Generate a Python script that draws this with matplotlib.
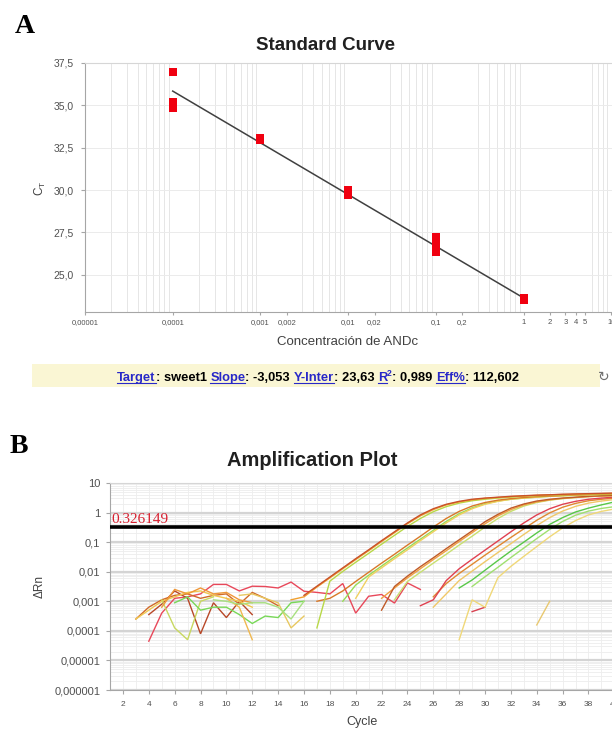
import numpy as np
import matplotlib.pyplot as plt
from matplotlib.lines import Line2D
from matplotlib.patches import Rectangle
from matplotlib.ticker import FixedLocator, FixedFormatter, NullFormatter

plt.rcParams['font.family'] = ['Liberation Sans', 'DejaVu Sans']

# ---------------- Standard curve (panel A) ----------------
conc = [0.0001, 0.0001, 0.0001, 0.001, 0.001, 0.01, 0.01, 0.1, 0.1, 0.1, 1, 1]
ct = [36.97, 35.2, 34.85, 33.1, 32.95, 30.0, 29.7, 27.25, 26.8, 26.35, 23.6, 23.5]
slope = -3.053
y_inter = 23.63
fit_conc = [0.0001, 1]

std_xticks = [1e-5, 1e-4, 1e-3, 2e-3, 1e-2, 2e-2, 0.1, 0.2, 1, 2, 3, 4, 5, 10]
std_xlabels = ['0,00001', '0,0001', '0,001', '0,002', '0,01', '0,02', '0,1', '0,2',
               '1', '2', '3', '4', '5', '10']
std_yticks = [25.0, 27.5, 30.0, 32.5, 35.0, 37.5]
std_ylabels = ['25,0', '27,5', '30,0', '32,5', '35,0', '37,5']

# ---------------- Amplification plot (panel B) ----------------
threshold = 0.326149
amp_yticks = [1e-6, 1e-5, 1e-4, 1e-3, 1e-2, 1e-1, 1, 10]
amp_ylabels = ['0,000001', '0,00001', '0,0001', '0,001', '0,01', '0,1', '1', '10']
amp_xticks = list(range(2, 42, 2))

# log10(dRn) per cycle: (first cycle, values, colour)
tr01 = (16, [-2.80, -2.49, -2.18, -1.87, -1.56, -1.26, -0.95, -0.65, -0.35, -0.08, 0.13, 0.28, 0.38,
             0.45, 0.49, 0.52, 0.55, 0.57, 0.59, 0.60, 0.62, 0.63, 0.64, 0.65, 0.66], '#C8502A')
tr02 = (15, [-2.95, -2.85, -2.52, -2.21, -1.90, -1.59, -1.29, -0.98, -0.68, -0.38, -0.11, 0.10, 0.26,
             0.36, 0.43, 0.48, 0.51, 0.54, 0.56, 0.58, 0.60, 0.61, 0.62, 0.63, 0.64, 0.65], '#F0A030')
tr03 = (17, [-3.90, -2.32, -1.99, -1.68, -1.38, -1.07, -0.77, -0.47, -0.20, 0.03, 0.20, 0.32, 0.40,
             0.45, 0.49, 0.52, 0.55, 0.57, 0.58, 0.60, 0.61, 0.62, 0.63, 0.64], '#B8D848')
tr04 = (17, [-3.00, -2.90, -2.65, -2.33, -2.02, -1.71, -1.41, -1.10, -0.80, -0.49, -0.20, 0.04, 0.22,
             0.34, 0.42, 0.47, 0.51, 0.54, 0.56, 0.58, 0.60, 0.61, 0.62, 0.63], '#D87828')
tr05 = (20, [-2.90, -2.18, -1.87, -1.56, -1.26, -0.95, -0.65, -0.35, -0.08, 0.13, 0.28, 0.38, 0.45,
             0.49, 0.52, 0.55, 0.57, 0.59, 0.60, 0.62, 0.63], '#F0D060')
tr06 = (19, [-3.00, -2.45, -2.12, -1.81, -1.50, -1.20, -0.90, -0.60, -0.30, -0.04, 0.16, 0.30, 0.39,
             0.45, 0.49, 0.52, 0.55, 0.57, 0.58, 0.60, 0.61, 0.62], '#98DC58')
tr07 = (22, [-3.30, -2.50, -2.15, -1.83, -1.53, -1.22, -0.92, -0.62, -0.31, -0.06, 0.15, 0.29, 0.39,
             0.45, 0.49, 0.52, 0.55, 0.57, 0.58], '#C05A28')
tr08 = (22, [-2.90, -2.55, -2.21, -1.90, -1.59, -1.29, -0.98, -0.68, -0.38, -0.11, 0.10, 0.26, 0.36,
             0.43, 0.48, 0.51, 0.54, 0.56, 0.57], '#F0A040')
tr09 = (23, [-2.95, -2.33, -2.02, -1.71, -1.41, -1.10, -0.80, -0.49, -0.20, 0.04, 0.22, 0.34, 0.42,
             0.47, 0.51, 0.54, 0.56, 0.57], '#C8E070')
tr10 = (25, [-3.15, -2.95, -2.30, -1.90, -1.58, -1.27, -0.96, -0.65, -0.35, -0.08, 0.13, 0.28, 0.38,
             0.45, 0.49, 0.52], '#E04050')
tr11 = (26, [-2.85, -2.40, -2.06, -1.75, -1.44, -1.14, -0.84, -0.55, -0.26, -0.01, 0.18, 0.31, 0.40,
             0.45, 0.49], '#E08830')
tr12 = (26, [-3.20, -2.75, -2.30, -1.98, -1.66, -1.35, -1.05, -0.74, -0.44, -0.17, 0.05, 0.21, 0.32,
             0.39, 0.44], '#F0C868')
tr13 = (28, [-2.55, -2.28, -1.95, -1.62, -1.30, -1.00, -0.69, -0.40, -0.17, 0.02, 0.15, 0.26, 0.36], '#58C848')
tr14 = (29, [-2.50, -2.17, -1.85, -1.52, -1.20, -0.88, -0.57, -0.30, -0.09, 0.05, 0.14, 0.20], '#A0E070')
tr15 = (28, [-4.30, -2.95, -3.20, -2.20, -1.82, -1.48, -1.15, -0.82, -0.52, -0.27, -0.08, 0.04, 0.12], '#F0D878')

# baseline noise fragments
nz01 = (4, [-4.35, -3.40, -2.90, -2.85, -2.75, -2.43, -2.43, -2.65, -2.49, -2.50, -2.55, -2.35, -2.66,
            -2.70, -2.75, -2.40, -3.40, -2.83, -2.77, -3.06, -2.38, -2.60], '#E8485A')
nz02 = (4, [-3.45, -3.10, -2.65, -2.90, -4.10, -3.05, -3.55, -3.00, -3.45], '#B84828')
nz03 = (3, [-3.60, -3.20, -2.95, -2.80, -2.75, -2.90, -2.80, -2.75, -3.10, -2.70, -2.90, -3.15], '#D06A2A')
nz04 = (3, [-3.60, -3.30, -3.00, -2.85, -2.70, -2.65, -2.80, -2.90, -3.00, -3.20], '#F0C850')
nz05 = (5, [-2.95, -3.90, -4.30, -3.00, -2.85], '#C8D860')
nz06 = (6, [-3.05, -2.85, -3.30, -3.20, -3.20, -3.45, -3.75, -3.50, -3.55, -3.05, -3.00], '#78D858')
nz07 = (11, [-2.80, -2.75, -2.90, -3.05, -3.90, -3.50], '#E8C860')
nz08 = (10, [-2.90, -3.20, -4.30], '#F0B850')
nz09 = (5, [-3.20, -2.60, -2.75, -2.55, -2.75, -2.70, -2.95, -3.05], '#F09838')
nz10 = (29, [-3.35, -3.20], '#D84050')
nz11 = (34, [-3.80, -3.00], '#E8C870')
nz12 = (9, [-2.95, -3.00, -3.10, -3.05, -3.05, -3.20, -3.60, -3.00], '#A8E080')

noise = [nz01, nz02, nz03, nz04, nz05, nz06, nz07, nz08, nz09, nz10, nz11, nz12]
traces = [tr15, tr14, tr13, tr12, tr11, tr10, tr09, tr08, tr07, tr06, tr05, tr04, tr03, tr02, tr01]

W, H = 612, 732
fig = plt.figure(figsize=(W / 100, H / 100), dpi=100)


def box(l, t, r, b):
    return [l / W, 1 - b / H, (r - l) / W, (b - t) / H]


def fy(y):
    return 1 - y / H


grid_c = '#E6E6E6'
spine_c = '#A6A6A6'
tick_c = '#505050'

# ---------------- panel A ----------------
fig.text(15 / W, fy(33), 'A', family='Liberation Serif', weight='bold', fontsize=20, va='baseline')
fig.text(325 / W, fy(45), 'Standard Curve', weight='bold', fontsize=13.5, ha='center', va='center',
         color='#202020')

ax1 = fig.add_axes(box(85, 63, 699, 312))
ax1.set_xscale('log')
ax1.set_xlim(1e-5, 1e2)
ax1.set_ylim(22.8, 37.5)
ax1.xaxis.set_major_locator(FixedLocator(std_xticks))
ax1.xaxis.set_major_formatter(FixedFormatter(std_xlabels))
minor_x = [m * 10.0 ** e for e in range(-5, 2) for m in range(1, 10)]
ax1.xaxis.set_minor_locator(FixedLocator(minor_x))
ax1.xaxis.set_minor_formatter(NullFormatter())
ax1.set_yticks(std_yticks)
ax1.set_yticklabels(std_ylabels)
ax1.grid(True, which='minor', axis='x', color=grid_c, lw=0.7)
ax1.grid(True, which='major', axis='y', color='#EBEBEB', lw=0.7)
ax1.tick_params(axis='x', which='major', length=2, pad=3, labelsize=5.5, colors=spine_c, labelcolor=tick_c)
ax1.tick_params(axis='x', which='minor', length=0)
ax1.tick_params(axis='y', length=3, pad=5, labelsize=7.5, colors=spine_c, labelcolor=tick_c)
for s in ['left', 'bottom']:
    ax1.spines[s].set_color(spine_c)
ax1.spines['top'].set_color('#D6D6D6')
ax1.spines['right'].set_visible(False)
ax1.set_axisbelow(True)

fit_ct = [y_inter + slope * np.log10(c) for c in fit_conc]
ax1.plot(fit_conc, fit_ct, color='#404040', lw=1.1, zorder=2)
ax1.plot(conc, ct, 's', color='#F00010', markersize=6.3, markeredgewidth=0, zorder=3)
fig.text(348 / W, fy(342), 'Concentración de ANDc', fontsize=9.5, ha='center', va='center', color='#404040')
fig.text(40 / W, fy(188), r'C$_\mathregular{T}$', fontsize=8.5, rotation=90, ha='center', va='center',
         color='#404040')

# info bar
fig.patches.append(Rectangle((32 / W, fy(387)), 568 / W, 23 / H, transform=fig.transFigure,
                             facecolor='#FAF6D4', edgecolor='none'))
blue = '#2828C8'
pieces = [('Target', blue, True), (': sweet1 ', 'black', False), ('Slope', blue, True),
          (': -3,053 ', 'black', False), ('Y-Inter', blue, True), (': 23,63 ', 'black', False),
          ('R', blue, True), ('SUP2', blue, False), (': 0,989 ', 'black', False),
          ('Eff%', blue, True), (': 112,602', 'black', False)]
renderer = fig.canvas.get_renderer()
info_size = 9.3
sup_size = 6.2


def text_w(s, size):
    t = fig.text(0, 0, s + '|', fontsize=size, weight='bold')
    bar = fig.text(0, 0, '|', fontsize=size, weight='bold')
    w = t.get_window_extent(renderer).width - bar.get_window_extent(renderer).width
    t.remove()
    bar.remove()
    return w


widths = []
for s, c, u in pieces:
    widths.append(text_w('2', sup_size) if s == 'SUP2' else text_w(s, info_size))
x = 318 - sum(widths) / 2
base = 381
for (s, c, u), w in zip(pieces, widths):
    if s == 'SUP2':
        fig.text(x / W, fy(base - 5), '2', fontsize=sup_size, weight='bold', color=c, va='baseline')
    else:
        fig.text(x / W, fy(base), s, fontsize=info_size, weight='bold', color=c, va='baseline')
    if u:
        fig.add_artist(Line2D([x / W, (x + w) / W], [fy(base + 2)] * 2, color=c, lw=0.8))
    x += w
fig.text(604 / W, fy(377), '\u21bb', family='DejaVu Sans', fontsize=10, color='#707070',
         ha='center', va='center')

# ---------------- panel B ----------------
fig.text(10 / W, fy(453), 'B', family='Liberation Serif', weight='bold', fontsize=20, va='baseline')
fig.text(312 / W, fy(461), 'Amplification Plot', weight='bold', fontsize=14.5, ha='center', va='center',
         color='#202020')

ax2 = fig.add_axes(box(110, 483, 679, 690))
ax2.set_yscale('log')
ax2.set_ylim(1e-6, 10)
ax2.set_xlim(1, 45)
ax2.set_yticks(amp_yticks)
ax2.set_yticklabels(amp_ylabels)
minor_y = [m * 10.0 ** e for e in range(-6, 1) for m in range(2, 10)]
ax2.yaxis.set_minor_locator(FixedLocator(minor_y))
ax2.yaxis.set_minor_formatter(NullFormatter())
ax2.set_xticks(amp_xticks)
ax2.set_xticklabels([str(v) for v in amp_xticks])
ax2.xaxis.set_minor_locator(FixedLocator(list(range(1, 46))))
ax2.grid(True, which='minor', color='#EDEDED', lw=0.6)
ax2.grid(True, which='major', axis='x', color='#EDEDED', lw=0.6)
ax2.grid(True, which='major', axis='y', color='#D4D4D4', lw=1.6)
ax2.tick_params(axis='both', which='minor', length=0)
ax2.tick_params(axis='y', which='major', length=3, pad=4, labelsize=8, colors=spine_c, labelcolor=tick_c)
ax2.tick_params(axis='x', which='major', length=3, pad=5, labelsize=6, colors=spine_c, labelcolor=tick_c)
for s in ['left', 'bottom']:
    ax2.spines[s].set_color(spine_c)
ax2.spines['top'].set_color('#D6D6D6')
ax2.spines['right'].set_visible(False)
ax2.set_axisbelow(True)

for start, vals, col in noise + traces:
    cyc = list(range(start, start + len(vals)))
    ax2.plot(cyc, [10.0 ** v for v in vals], color=col, lw=1.0, solid_joinstyle='miter')

ax2.axhline(threshold, color='black', lw=2.6, zorder=4)
ax2.text(1.1, threshold * 1.1, '0.326149', color='#D82030', family='Liberation Serif', fontsize=11,
         va='bottom', ha='left', zorder=5)

fig.text(362 / W, fy(722), 'Cycle', fontsize=9, ha='center', va='center', color='#404040')
fig.text(40 / W, fy(586), '\u0394Rn', fontsize=8.5, rotation=90, ha='center', va='center', color='#404040')

fig.savefig('out.png', dpi=100)
